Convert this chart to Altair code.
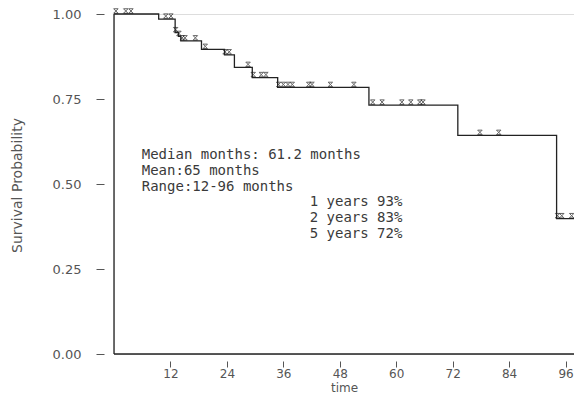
import altair as alt
import pandas as pd

# Kaplan-Meier step curve (months, survival)
step_times = [0, 9.5, 13.0, 13.7, 14.2, 18.6, 23.5, 25.6, 29.4, 34.8, 54.2, 73.1, 94.1, 97.8]
step_surv = [1.0, 0.985, 0.945, 0.934, 0.921, 0.896, 0.880, 0.843, 0.813, 0.784, 0.732, 0.643, 0.398, 0.398]

# censored observations (months)
censor_times = [0.4, 2.5, 3.6, 11.0, 12.1, 13.1, 13.8, 14.5, 15.1, 17.3, 19.4, 23.6, 24.5,
                28.5, 29.6, 31.3, 32.3, 35.0, 36.0, 37.0, 37.9, 41.4, 42.1, 46.0, 51.0,
                55.0, 57.0, 61.2, 63.1, 65.0, 65.7, 77.8, 81.8, 94.3, 95.2, 97.3]

x_ticks = [12, 24, 36, 48, 60, 72, 84, 96]
y_ticks = [0, 0.25, 0.5, 0.75, 1.0]

summary_lines = ["Median months: 61.2 months", "Mean:65 months", "Range:12-96 months"]
year_lines = ["1 years 93%", "2 years 83%", "5 years 72%"]


def surv_at(t):
    s = step_surv[0]
    for tt, ss in zip(step_times, step_surv):
        if tt <= t:
            s = ss
    return s


steps = pd.DataFrame({"time": step_times, "surv": step_surv})
censors = pd.DataFrame({"time": censor_times, "surv": [surv_at(t) for t in censor_times]})
xmax = step_times[-1]

xscale = alt.Scale(domain=[0, xmax], nice=False, zero=False)
yscale = alt.Scale(domain=[0, 1], nice=False)

x_axis = alt.Axis(values=x_ticks, title="time", domain=False, grid=False, offset=7,
                  tickSize=6, tickColor="#555", labelPadding=1, labelFontSize=12,
                  labelColor="#555", labelFont="DejaVu Sans", titleFont="DejaVu Sans",
                  titleFontSize=12, titleFontWeight="normal", titleColor="#555",
                  titlePadding=3)
y_axis = alt.Axis(values=y_ticks, format=".2f", title="Survival Probability", domain=False,
                  grid=False, offset=10, tickSize=8, tickColor="#555", labelPadding=15,
                  labelFontSize=13, labelColor="#555", labelFont="DejaVu Sans",
                  titleFont="DejaVu Sans", titleFontSize=14, titleFontWeight="normal",
                  titleColor="#555", titleX=-87, titleY=171, titleBaseline="middle")

line = alt.Chart(steps).mark_line(interpolate="step-after", color="#222", strokeWidth=1.3).encode(
    x=alt.X("time:Q", scale=xscale, axis=x_axis),
    y=alt.Y("surv:Q", scale=yscale, axis=y_axis),
)

marks = alt.Chart(censors).mark_point(
    shape="M-1,-1L1,-1L-1,1L1,1Z", size=20, filled=False, color="#222", strokeWidth=1, yOffset=-3
).encode(x=alt.X("time:Q", scale=xscale), y=alt.Y("surv:Q", scale=yscale))

left_line = alt.Chart(pd.DataFrame({"time": [0], "y0": [0.0], "y1": [1.0]})).mark_rule(
    color="#222", strokeWidth=1.3
).encode(x=alt.X("time:Q", scale=xscale), y=alt.Y("y0:Q", scale=yscale), y2="y1:Q")

bottom_line = alt.Chart(pd.DataFrame({"y": [0.0], "x0": [0.0], "x1": [xmax]})).mark_rule(
    color="#222", strokeWidth=1.3
).encode(y=alt.Y("y:Q", scale=yscale), x=alt.X("x0:Q", scale=xscale), x2="x1:Q")

summary = alt.Chart(pd.DataFrame({"t": ["\n".join(summary_lines)], "x": [5.9], "y": [0.584]})).mark_text(
    align="left", baseline="middle", font="DejaVu Sans Mono", fontSize=14, color="#3a3a3a",
    lineHeight=16, lineBreak="\n"
).encode(x=alt.X("x:Q", scale=xscale), y=alt.Y("y:Q", scale=yscale), text="t:N")

years = alt.Chart(pd.DataFrame({"t": ["\n".join(year_lines)], "x": [41.6], "y": [0.447]})).mark_text(
    align="left", baseline="middle", font="DejaVu Sans Mono", fontSize=14, color="#3a3a3a",
    lineHeight=16, lineBreak="\n"
).encode(x=alt.X("x:Q", scale=xscale), y=alt.Y("y:Q", scale=yscale), text="t:N")

chart = alt.layer(left_line, bottom_line, line, marks, summary, years).properties(
    width=460, height=340,
    autosize=alt.AutoSizeParams(type="none"),
    padding={"left": 106, "top": 6, "right": 0, "bottom": 42},
).configure_view(strokeWidth=0, stroke="transparent").configure_axis(
    grid=False, domain=False
).configure(background="white")

chart.save("out.html", embed_options={"renderer": "svg", "actions": False})
